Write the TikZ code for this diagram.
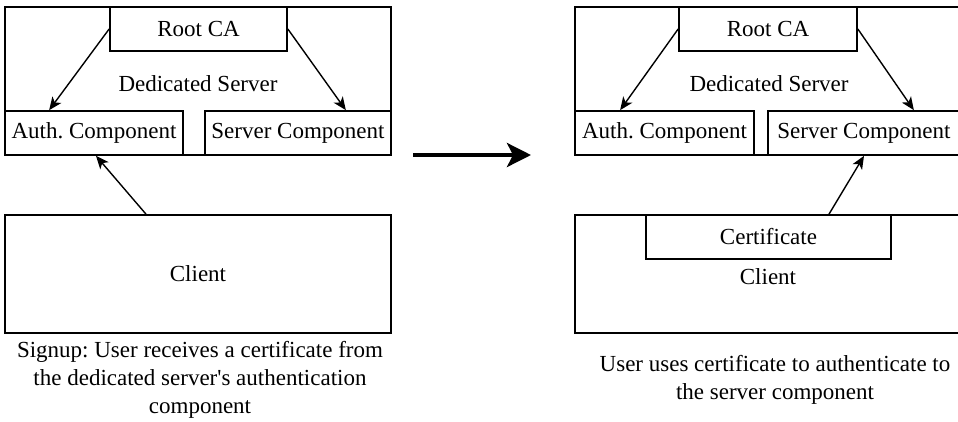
\documentclass[tikz,border=0pt]{standalone}
\usepackage{fontspec}
\setmainfont{Liberation Serif}
\usetikzlibrary{arrows.meta}
\begin{document}
\frenchspacing
\begin{tikzpicture}[x=1pt,y=-1pt,
  every node/.style={font=\fontsize{23}{28}\selectfont, inner sep=0pt},
  box/.style={draw, line width=1.7pt, rectangle, fill=white, anchor=center},
  flow/.style={line width=1.4pt, -{Stealth[length=13pt,width=11pt,inset=3.5pt]}},
  bigflow/.style={line width=4pt, -{Stealth[length=24pt,width=24pt,inset=6pt]}}]
\useasboundingbox (0,0) rectangle (958,421);

% ---- signup: left panel ----
\node[box, minimum width=386pt, minimum height=148pt] (ds1) at (198,81) {};
\node (ds1t) at (198,84) {Dedicated Server};
\node[box, minimum width=177pt, minimum height=44pt] (rca1) at (198.5,29) {Root CA};
\node[box, minimum width=178pt, minimum height=44pt] (auth1) at (94,133) {Auth. Component};
\node[box, minimum width=186pt, minimum height=44pt] (srv1) at (298,133) {Server Component};
\node[box, minimum width=386pt, minimum height=118pt] (cl1) at (198,274) {Client};
\draw[flow] (rca1.west) -- ([xshift=45pt]auth1.north west);
\draw[flow] (rca1.east) -- ([xshift=-46pt]srv1.north east);
\draw[flow] ([xshift=-52pt]cl1.north) -- ([xshift=2pt]auth1.south);
\node[align=center] (cap1) at (200,380) {Signup: User receives a certificate from\\the dedicated server\textquotesingle s authentication\\component};

% ---- transition arrow ----
\coordinate (mA) at (413,155);
\coordinate (mB) at (531,155);
\draw[bigflow] (mA) -- (mB);

% ---- login: right panel ----
\node[box, minimum width=385pt, minimum height=148pt] (ds2) at (767.5,81) {};
\node (ds2t) at (769,84) {Dedicated Server};
\node[box, minimum width=178pt, minimum height=44pt] (rca2) at (768,29) {Root CA};
\node[box, minimum width=179pt, minimum height=44pt] (auth2) at (664.5,133) {Auth. Component};
\node[box, minimum width=192pt, minimum height=44pt] (srv2) at (864,133) {Server Component};
\node[box, minimum width=385pt, minimum height=118pt] (cl2) at (767.5,274) {};
\node (cl2t) at (768,277) {Client};
\node[box, minimum width=245pt, minimum height=44pt] (cert) at (768.5,237) {Certificate};
\draw[flow] (rca2.west) -- ([xshift=46pt]auth2.north west);
\draw[flow] (rca2.east) -- ([xshift=-47pt]srv2.north east);
\draw[flow] ([xshift=60.5pt]cert.north) -- (srv2.south);
\node[align=center] (cap2) at (775,380) {User uses certificate to authenticate to\\the server component};
\end{tikzpicture}
\end{document}
